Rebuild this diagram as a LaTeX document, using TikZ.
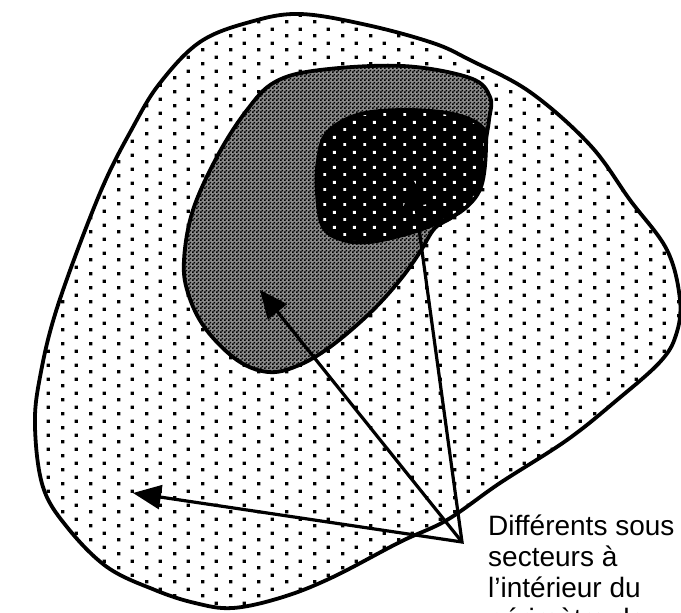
\documentclass[tikz,border=0pt]{standalone}
\usepackage{fontspec}
\newfontfamily\labelfont{Liberation Sans}
\usetikzlibrary{patterns,arrows.meta}
\pgfdeclarepatternformonly{outerdots}{\pgfpointorigin}{\pgfqpoint{28pt}{14pt}}{\pgfqpoint{28pt}{14pt}}{%
  \pgfpathrectangle{\pgfqpoint{5.25pt}{1.75pt}}{\pgfqpoint{3.5pt}{3.5pt}}%
  \pgfpathrectangle{\pgfqpoint{19.25pt}{8.75pt}}{\pgfqpoint{3.5pt}{3.5pt}}%
  \pgfusepath{fill}}
\pgfdeclarepatternformonly{checkers}{\pgfpointorigin}{\pgfqpoint{4pt}{4pt}}{\pgfqpoint{4pt}{4pt}}{%
  \pgfpathrectangle{\pgfqpoint{0pt}{0pt}}{\pgfqpoint{2pt}{2pt}}%
  \pgfpathrectangle{\pgfqpoint{2pt}{2pt}}{\pgfqpoint{2pt}{2pt}}%
  \pgfusepath{fill}}
\pgfdeclarepatternformonly{whitedots}{\pgfpointorigin}{\pgfqpoint{20pt}{15pt}}{\pgfqpoint{20pt}{15pt}}{%
  \pgfpathrectangle{\pgfqpoint{3.5pt}{2.25pt}}{\pgfqpoint{3pt}{3pt}}%
  \pgfpathrectangle{\pgfqpoint{13.5pt}{9.75pt}}{\pgfqpoint{3pt}{3pt}}%
  \pgfusepath{fill}}
\begin{document}
\begin{tikzpicture}[x=1pt,y=-1pt,
  blobline/.style={line width=3.8pt, line join=round},
  pointer/.style={line width=3.2pt, line join=miter, -{Triangle[length=28pt,width=24pt]}},
  lbl/.style={anchor=base west, inner sep=0pt, font=\labelfont\fontsize{28pt}{31pt}\selectfont}]
\useasboundingbox (0,0) rectangle (681,613);
\clip (0,0) rectangle (681,613);
\fill[white] (0,0) rectangle (681,613);
% outer perimeter
\draw[blobline, preaction={fill=white}, pattern=outerdots]
  plot[smooth cycle, tension=0.6] coordinates {
  (250,22) (300,14) (367,25) (433,43) (470,60) (530,92) (590,145) (630,200)
  (667,250) (680,300) (676,335) (660,362) (617,400) (567,440) (500,483)
  (447,520) (400,542) (333,577) (283,597) (233,608) (195,603) (155,590)
  (107,567) (67,527) (43,487) (35,427) (40,377) (58,305) (100,193) (133,127)
  (160,83) (200,42)};
% grey sector
\draw[blobline, preaction={fill=black!45}, pattern=checkers]
  plot[smooth cycle, tension=0.6] coordinates {
  (247,110) (275,82) (320,70) (403,66) (470,78) (490,97) (489,120) (485,145)
  (478,190) (455,215) (435,228) (420,252) (400,280) (370,313) (330,347)
  (297,366) (268,372) (237,360) (205,328) (188,293) (184,260) (193,210)
  (218,155)};
% dark sector
\draw[blobline, preaction={fill=black}, pattern=whitedots, pattern color=white]
  plot[smooth cycle, tension=0.6] coordinates {
  (327,133) (357,115) (403,110) (453,114) (482,127) (486,147) (481,187)
  (463,210) (437,223) (410,233) (370,242) (343,240) (323,227) (317,193)
  (318,160)};
% arrows
\coordinate (apex) at (462,542);
\coordinate (tipA) at (133,493);
\coordinate (tipB) at (260,290);
\coordinate (tipC) at (412,178);
\draw[pointer, {Triangle[length=28pt,width=24pt]}-{Triangle[length=28pt,width=24pt]}] (tipC) -- (apex) -- (tipA);
\draw[pointer] (apex) -- (tipB);
% label
\node[lbl] (t1) at (488,535) {Différents sous};
\node[lbl] (t2) at (488,566) {secteurs à};
\node[lbl] (t3) at (488,597) {l’intérieur du};
\node[lbl] (t4) at (488,628) {périmètre de};
\end{tikzpicture}
\end{document}
